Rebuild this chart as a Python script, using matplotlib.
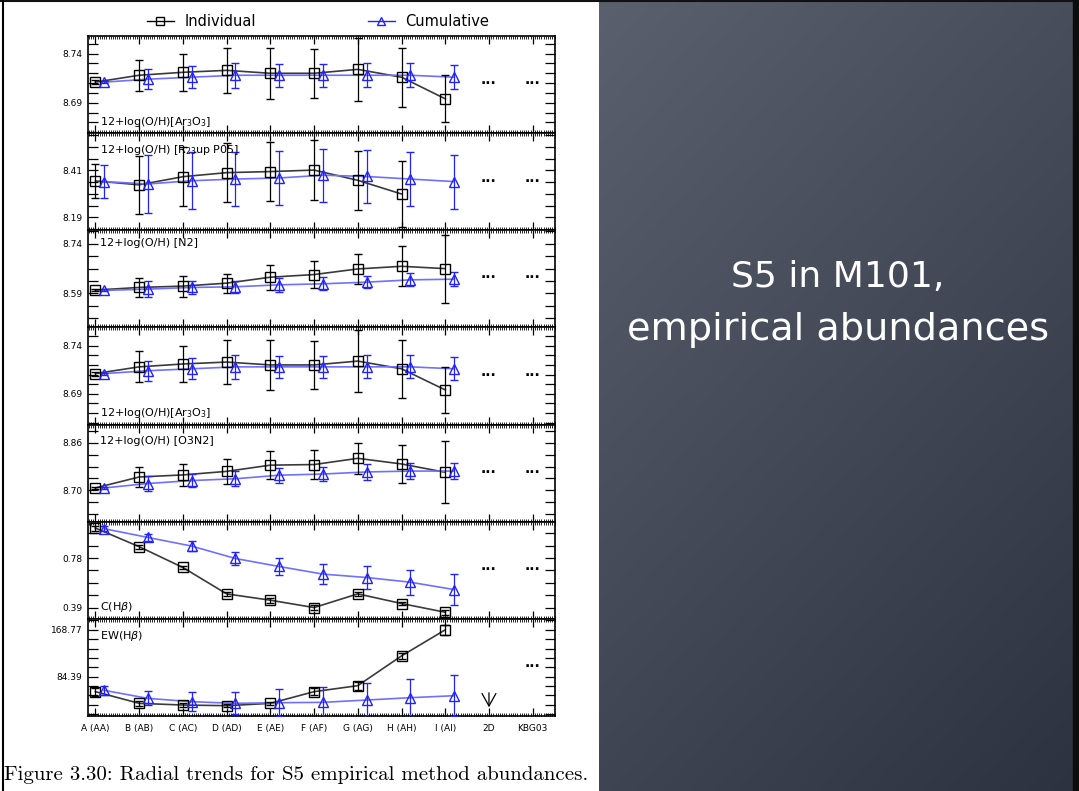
import numpy as np
import matplotlib
matplotlib.use("Agg")
import matplotlib.pyplot as plt
from matplotlib.lines import Line2D
from matplotlib.patches import Rectangle
from matplotlib.ticker import FixedLocator, FuncFormatter, MultipleLocator

# ---------------------------------------------------------------- data
regions = ['A (AA)', 'B (AB)', 'C (AC)', 'D (AD)', 'E (AE)', 'F (AF)',
           'G (AG)', 'H (AH)', 'I (AI)', '2D', 'KBG03']

# 12+log(O/H) [Ar3O3]
ind_aro = [8.711, 8.718, 8.721, 8.723, 8.720, 8.720, 8.724, 8.716, 8.694]
ind_aro_err = [0.002, 0.016, 0.019, 0.023, 0.026, 0.025, 0.032, 0.030, 0.024]
cum_aro = [8.711, 8.714, 8.716, 8.718, 8.718, 8.718, 8.718, 8.718, 8.716]
cum_aro_err = [0.001, 0.0105, 0.011, 0.0125, 0.0115, 0.0115, 0.012, 0.012, 0.012]

# 12+log(O/H) [R23 upper, P05]
ind_r23 = [8.360, 8.342, 8.380, 8.399, 8.404, 8.411, 8.363, 8.299]
ind_r23_err = [0.079, 0.135, 0.138, 0.138, 0.137, 0.141, 0.139, 0.153]
cum_r23 = [8.357, 8.346, 8.361, 8.369, 8.374, 8.387, 8.381, 8.369, 8.357]
cum_r23_err = [0.079, 0.135, 0.134, 0.128, 0.127, 0.124, 0.123, 0.125, 0.126]

# 12+log(O/H) [N2]
ind_n2 = [8.600, 8.608, 8.612, 8.621, 8.639, 8.647, 8.664, 8.672, 8.665]
ind_n2_err = [0.004, 0.028, 0.032, 0.029, 0.038, 0.040, 0.045, 0.061, 0.103]
cum_n2 = [8.599, 8.603, 8.608, 8.610, 8.616, 8.619, 8.624, 8.631, 8.633]
cum_n2_err = [0.003, 0.025, 0.020, 0.019, 0.021, 0.020, 0.019, 0.020, 0.022]

# 12+log(O/H) [O3N2]
ind_o3n2 = [8.708, 8.745, 8.752, 8.764, 8.785, 8.787, 8.808, 8.789, 8.761]
ind_o3n2_err = [0.004, 0.034, 0.036, 0.042, 0.048, 0.048, 0.053, 0.065, 0.105]
cum_o3n2 = [8.708, 8.723, 8.733, 8.739, 8.751, 8.755, 8.762, 8.765, 8.765]
cum_o3n2_err = [0.003, 0.025, 0.023, 0.025, 0.025, 0.025, 0.026, 0.026, 0.026]

# C(Hbeta)
ind_chb = [1.017, 0.870, 0.706, 0.498, 0.448, 0.390, 0.498, 0.422, 0.353]
ind_chb_err = [0.020, 0.015, 0.015, 0.015, 0.020, 0.020, 0.015, 0.015, 0.020]
cum_chb = [1.012, 0.943, 0.875, 0.777, 0.714, 0.654, 0.627, 0.590, 0.532]
cum_chb_err = [0.020, 0.030, 0.040, 0.050, 0.070, 0.080, 0.087, 0.100, 0.120]

# EW(Hbeta)
ind_ew = [57.3, 36.2, 33.2, 32.0, 36.2, 57.3, 68.1, 121.8, 168.8]
ind_ew_err = [7, 4, 3, 3, 3, 6, 7, 6, 9]
cum_ew = [59.7, 45.2, 39.2, 36.2, 37.4, 38.0, 42.2, 46.4, 50.0]
cum_ew_err = [8.4, 12.7, 16.6, 19.6, 24, 28, 30, 34, 37]

# level of the "no data" ellipses in each panel
ellipsis_level = [8.709, 8.357, 8.636, 8.709, 8.759, 0.688, 102.5]

# ---------------------------------------------------------------- figure
W, H = 1079, 791
fig = plt.figure(figsize=(W / 100, H / 100), dpi=100)
fig.patch.set_facecolor('white')

# slate board on the right
bg = fig.add_axes([599 / W, 0, (W - 599) / W, 1])
yy, xx = np.mgrid[0:1:240j, 0:1:160j]
t = np.clip(0.6 * yy + 0.4 * xx, 0, 1)[..., None]
c_top = np.array([0x5a, 0x60, 0x6e]) / 255
c_bot = np.array([0x2d, 0x32, 0x41]) / 255
bg.imshow(c_top * (1 - t) + c_bot * t, aspect='auto', extent=[0, 1, 0, 1])
bg.set_axis_off()
fig.patches.append(Rectangle((1073 / W, 0), 6 / W, 1, transform=fig.transFigure,
                             color='#0d0d0d', zorder=5))
fig.add_artist(Line2D([0, 1], [1 - 1 / H] * 2, color='#111111', lw=1.5,
                      transform=fig.transFigure))
fig.add_artist(Line2D([3 / W, 3 / W], [0, 1], color='black', lw=1.5,
                      transform=fig.transFigure))

fig.text(838 / W, 1 - 277 / H, 'S5 in M101,', ha='center', va='center',
         color='white', fontsize=26, family='DejaVu Sans')
fig.text(838 / W, 1 - 330 / H, 'empirical abundances', ha='center', va='center',
         color='white', fontsize=27.5, family='DejaVu Sans')

# ---------------------------------------------------------------- panels
x_left, x_right = 88 / W, 555 / W
y_top, y_bot = 1 - 36 / H, 1 - 716 / H
ph = (y_top - y_bot) / 7

BLACK_LINE = '#3a3a3a'
BLUE = '#2222ff'
BLUE_LINE = '#7070ff'

panels = [
    dict(ind=ind_aro, ie=ind_aro_err, cum=cum_aro, ce=cum_aro_err,
         ylim=(8.659, 8.758), step=0.01, lab=(8.69, 8.74),
         text=r'12+log(O/H)[Ar$_3$O$_3$]', ty=0.11),
    dict(ind=ind_r23, ie=ind_r23_err, cum=cum_r23, ce=cum_r23_err,
         ylim=(8.129, 8.584), step=0.055, lab=(8.19, 8.41),
         text=r'12+log(O/H) [R$_{23}$up P05]', ty=0.83),
    dict(ind=ind_n2, ie=ind_n2_err, cum=cum_n2, ce=cum_n2_err,
         ylim=(8.487, 8.781), step=0.0375, lab=(8.59, 8.74),
         text='12+log(O/H) [N2]', ty=0.865),
    dict(ind=ind_aro, ie=ind_aro_err, cum=cum_aro, ce=cum_aro_err,
         ylim=(8.658, 8.759), step=0.01, lab=(8.69, 8.74),
         text=r'12+log(O/H)[Ar$_3$O$_3$]', ty=0.12),
    dict(ind=ind_o3n2, ie=ind_o3n2_err, cum=cum_o3n2, ce=cum_o3n2_err,
         ylim=(8.594, 8.922), step=0.04, lab=(8.70, 8.86),
         text='12+log(O/H) [O3N2]', ty=0.835),
    dict(ind=ind_chb, ie=ind_chb_err, cum=cum_chb, ce=cum_chb_err,
         ylim=(0.301, 1.067), step=0.0975, lab=(0.39, 0.78),
         text=r'C(H$\beta$)', ty=0.125),
    dict(ind=ind_ew, ie=ind_ew_err, cum=cum_ew, ce=cum_ew_err,
         ylim=(13.4, 188.6), step=16.876, lab=(84.39, 168.77),
         text=r'EW(H$\beta$)', ty=0.825),
]

for i, p in enumerate(panels):
    ax = fig.add_axes([x_left, y_top - (i + 1) * ph, x_right - x_left, ph])
    ax.set_xlim(-0.17, 10.51)
    ax.set_ylim(*p['ylim'])

    xi = np.arange(len(p['ind']))
    ax.plot(xi, p['ind'], color=BLACK_LINE, lw=1.2, zorder=2)
    ax.errorbar(xi, p['ind'], yerr=p['ie'], fmt='s', ms=7, mfc='none',
                mec='black', mew=1.0, ecolor='black', elinewidth=0.9,
                capsize=3, capthick=0.9, zorder=3)

    xc = np.arange(len(p['cum'])) + 0.2
    ax.plot(xc, p['cum'], color=BLUE_LINE, lw=1.2, zorder=2)
    ax.errorbar(xc, p['cum'], yerr=p['ce'], fmt='^', ms=7.5, mfc='none',
                mec=BLUE, mew=1.0, ecolor=BLUE, elinewidth=0.9,
                capsize=3, capthick=0.9, zorder=3)

    dots = '\u00b7\u00b7\u00b7'
    if i < 6:
        ax.text(9, ellipsis_level[i], dots, ha='center', va='center',
                fontsize=10, fontweight='bold')
    ax.text(10, ellipsis_level[i], dots, ha='center', va='center',
            fontsize=10, fontweight='bold')

    ax.text(0.026, p['ty'], p['text'], transform=ax.transAxes,
            ha='left', va='center', fontsize=8)

    # y ticks: regular ladder, only two values labelled
    lo, hi = p['ylim']
    base = p['lab'][0]
    k0 = int(np.ceil((lo - base) / p['step'] - 1e-6))
    k1 = int(np.floor((hi - base) / p['step'] + 1e-6))
    ticks = [base + k * p['step'] for k in range(k0, k1 + 1)]
    labelled = p['lab']
    ax.yaxis.set_major_locator(FixedLocator(ticks))
    ax.yaxis.set_major_formatter(FuncFormatter(
        lambda v, pos, lab=labelled: '%.2f' % v
        if min(abs(v - l) for l in lab) < 1e-6 else ''))
    ax.tick_params(axis='y', which='major', direction='in', length=7,
                   width=0.9, left=True, right=True, labelsize=6.5, pad=4)

    ax.xaxis.set_major_locator(FixedLocator(range(len(regions))))
    ax.xaxis.set_minor_locator(MultipleLocator(0.05))
    ax.tick_params(axis='x', which='major', direction='in', length=6,
                   width=0.9, top=True, bottom=True, labelsize=6.5, pad=6)
    ax.tick_params(axis='x', which='minor', direction='in', length=2.5,
                   width=0.6, top=True, bottom=True)
    if i == 6:
        ax.set_xticklabels(regions)
        ax.annotate('', xy=(9, 24.1), xytext=(9, 60.3),
                    arrowprops=dict(arrowstyle='->,head_length=0.9,head_width=0.5',
                                    color='black', lw=0.9))
    else:
        ax.set_xticklabels([])
    for s in ax.spines.values():
        s.set_linewidth(1.2)

# legend above the panels
h_ind = Line2D([], [], color='black', lw=1, marker='s', ms=6, mfc='none',
               mec='black')
h_cum = Line2D([], [], color=BLUE, lw=1, marker='^', ms=6, mfc='none',
               mec=BLUE)
fig.legend([h_ind, h_cum], ['Individual', 'Cumulative'], loc='center left',
           bbox_to_anchor=(147 / W, 1 - 22 / H), ncol=2, frameon=False,
           fontsize=10.5, handlelength=1.85, handletextpad=0.7,
           columnspacing=7.7, borderpad=0, borderaxespad=0)

fig.text(4 / W, 1 - 775 / H,
         'Figure 3.30: Radial trends for S5 empirical method abundances.',
         family='cmr10', fontsize=15, ha='left', va='center')

fig.savefig('out.png', dpi=100)
